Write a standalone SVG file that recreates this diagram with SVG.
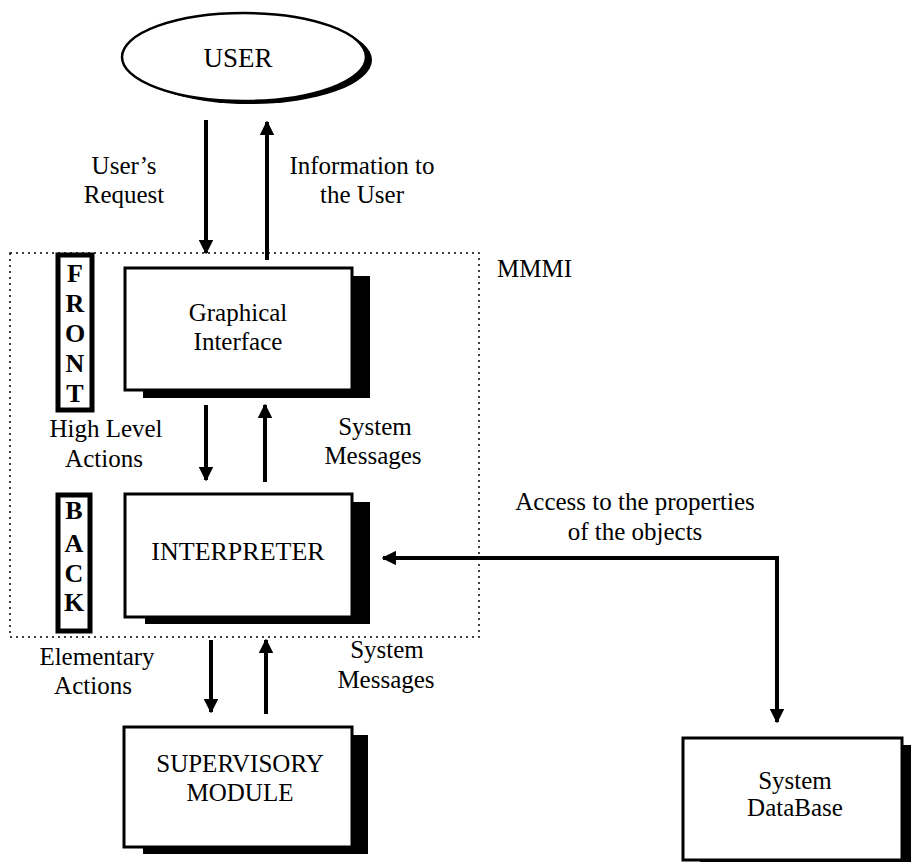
<svg xmlns="http://www.w3.org/2000/svg" width="911" height="862" viewBox="0 0 911 862">
<style>
text{font-family:"Liberation Serif","Times New Roman",serif;font-size:25px;fill:#000}
.c{text-anchor:middle}
.b{font-weight:bold;font-size:26px;text-anchor:middle}
.box{fill:#fff;stroke:#000;stroke-width:3}
.sh{fill:#000}
.tag{fill:#fff;stroke:#000;stroke-width:5}
.ln{stroke:#000;stroke-width:4;fill:none}
</style>
<defs>
<marker id="ah" viewBox="0 0 10 10" refX="9" refY="5" markerWidth="3.6" markerHeight="3.6" orient="auto" markerUnits="strokeWidth">
<path d="M0,0 L10,5 L0,10 z" fill="#000"/>
</marker>
</defs>
<rect x="0" y="0" width="911" height="862" fill="#fff"/>

<g id="mmmi">
<rect x="10" y="253" width="469" height="384" fill="none" stroke="#000" stroke-width="1.5" stroke-dasharray="2,4"/>
<text x="497" y="277">MMMI</text>
</g>

<g id="user">
<ellipse cx="250" cy="60" rx="122" ry="44" class="sh"/>
<ellipse cx="244" cy="57" rx="122" ry="44" fill="#fff" stroke="#000" stroke-width="2.5"/>
<text x="238" y="67" class="c" style="font-size:27px">USER</text>
</g>

<g id="front">
<rect x="58" y="255" width="34" height="155" class="tag"/>
<text x="75" y="282" class="b">F</text>
<text x="75" y="312" class="b">R</text>
<text x="75" y="342" class="b">O</text>
<text x="75" y="372" class="b">N</text>
<text x="75" y="402" class="b">T</text>
</g>

<g id="back">
<rect x="58" y="495" width="32" height="136" class="tag"/>
<text x="74" y="519" class="b">B</text>
<text x="74" y="552" class="b">A</text>
<text x="74" y="582" class="b">C</text>
<text x="74" y="611" class="b">K</text>
</g>

<g id="graphical">
<rect x="143" y="276" width="227" height="122" class="sh"/>
<rect x="125" y="268" width="227" height="122" class="box"/>
<text x="238" y="321" class="c">Graphical</text>
<text x="238" y="350" class="c">Interface</text>
</g>

<g id="interpreter">
<rect x="145" y="502" width="225" height="122" class="sh"/>
<rect x="125" y="494" width="227" height="123" class="box"/>
<text x="238" y="560" class="c" style="font-size:26px">INTERPRETER</text>
</g>

<g id="supervisory">
<rect x="143" y="735" width="225" height="119" class="sh"/>
<rect x="124" y="727" width="228" height="120" class="box"/>
<text x="240" y="772" class="c">SUPERVISORY</text>
<text x="240" y="801" class="c">MODULE</text>
</g>

<g id="database">
<rect x="700" y="745" width="220" height="122" class="sh"/>
<rect x="683" y="738" width="219" height="122" class="box"/>
<text x="795" y="789" class="c">System</text>
<text x="795" y="816" class="c">DataBase</text>
</g>

<g id="connectors">
<line x1="206" y1="120" x2="206" y2="253" class="ln" marker-end="url(#ah)"/>
<line x1="267" y1="260" x2="267" y2="122" class="ln" marker-end="url(#ah)"/>
<line x1="206" y1="405" x2="206" y2="480" class="ln" marker-end="url(#ah)"/>
<line x1="265" y1="482" x2="265" y2="405" class="ln" marker-end="url(#ah)"/>
<line x1="211" y1="640" x2="211" y2="712" class="ln" marker-end="url(#ah)"/>
<line x1="266" y1="714" x2="266" y2="640" class="ln" marker-end="url(#ah)"/>
<polyline points="777,558 383,558" class="ln" marker-end="url(#ah)"/>
<polyline points="777,556 777,722" class="ln" marker-end="url(#ah)"/>
</g>

<g id="labels">
<text x="124" y="174" class="c">User’s</text>
<text x="124" y="203" class="c">Request</text>
<text x="362" y="174" class="c">Information to</text>
<text x="362" y="203" class="c">the User</text>
<text x="106" y="437" class="c">High Level</text>
<text x="104" y="467" class="c">Actions</text>
<text x="375" y="435" class="c">System</text>
<text x="373" y="464" class="c">Messages</text>
<text x="635" y="510" class="c">Access to the properties</text>
<text x="635" y="540" class="c">of the objects</text>
<text x="97" y="665" class="c">Elementary</text>
<text x="93" y="694" class="c">Actions</text>
<text x="387" y="658" class="c">System</text>
<text x="386" y="688" class="c">Messages</text>
</g>
</svg>
